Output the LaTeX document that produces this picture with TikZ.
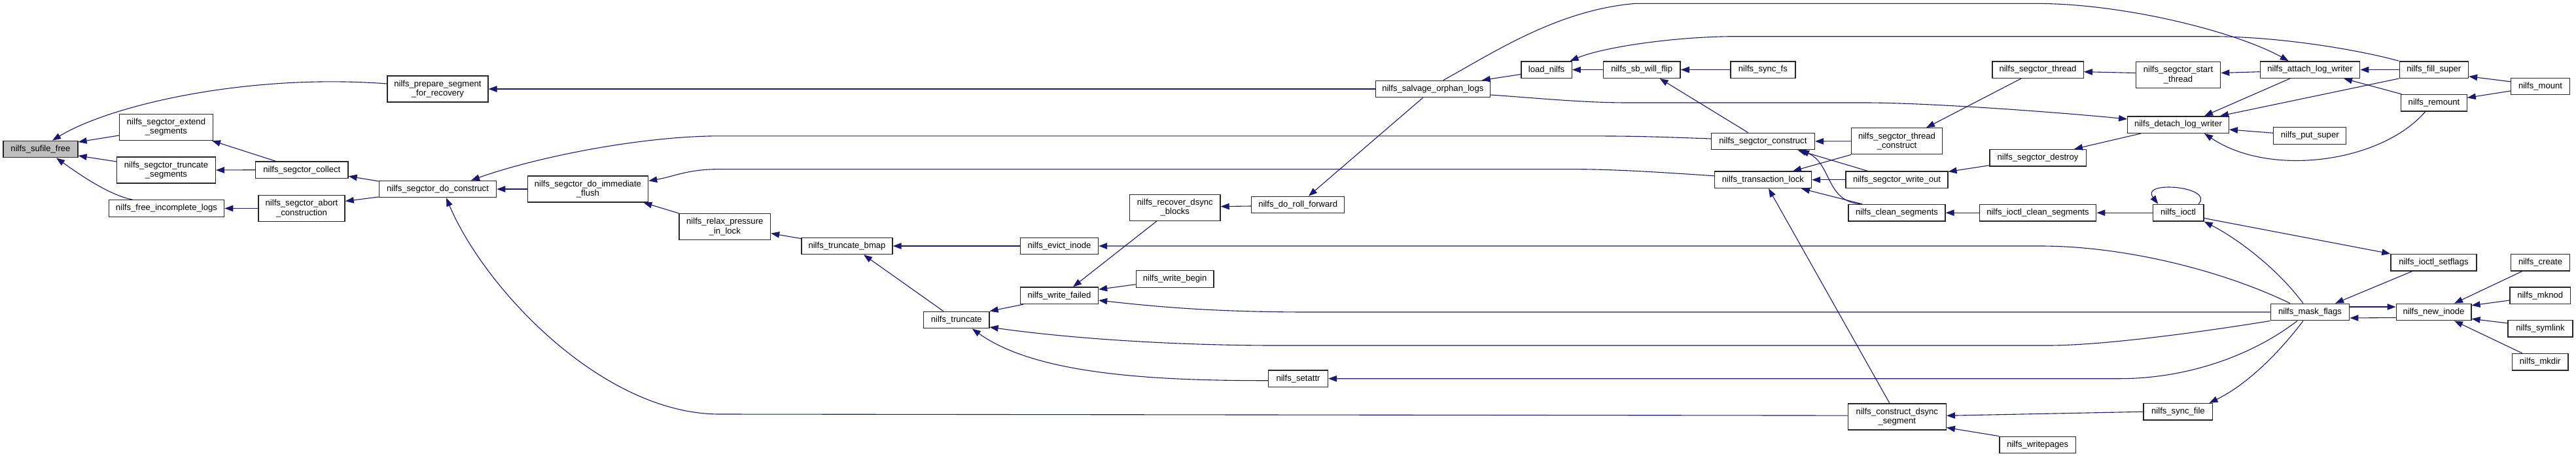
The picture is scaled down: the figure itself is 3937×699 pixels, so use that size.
\documentclass[tikz,border=0pt]{standalone}
\usepackage{fontspec}
\setmainfont{Liberation Sans}
\usetikzlibrary{arrows.meta}
\definecolor{edgeblue}{HTML}{191970}

\begin{document}
\begin{tikzpicture}[
  x=1pt, y=-1pt,
  fn/.style={draw=black!85, line width=1.3pt, fill=white, minimum height=25.5pt,
    inner sep=0pt, font=\fontsize{13.1}{14.3}\selectfont},
  fn2/.style={fn, minimum height=40pt, align=center},
  root/.style={fn, fill=black!25},
  call/.style={draw=edgeblue, line width=1.1pt, -{Triangle[length=13pt,width=9.5pt]}}
]
  \useasboundingbox (0,0) rectangle (3937,699);

  \node[root, minimum width=114pt] (sufile) at (62,228) {nilfs\_sufile\_free};
  \node[fn2, minimum width=143pt] (extend) at (254,194.4) {nilfs\_segctor\_extend\\\_segments};
  \node[fn2, minimum width=150.6pt] (truncseg) at (254,260) {nilfs\_segctor\_truncate\\\_segments};
  \node[fn, minimum width=176.4pt] (freeinc) at (254.4,318.5) {nilfs\_free\_incomplete\_logs};
  \node[fn, minimum width=141.4pt] (collect) at (461.3,259.7) {nilfs\_segctor\_collect};
  \node[fn2, minimum width=132.2pt] (abort) at (461,318.5) {nilfs\_segctor\_abort\\\_construction};
  \node[fn2, minimum width=153.8pt] (prepare) at (669,136) {nilfs\_prepare\_segment\\\_for\_recovery};
  \node[fn, minimum width=179.2pt] (doconstruct) at (669,289) {nilfs\_segctor\_do\_construct};
  \node[fn2, minimum width=184.4pt] (flush) at (898.4,289) {nilfs\_segctor\_do\_immediate\\\_flush};
  \node[fn2, minimum width=139.5pt] (relax) at (1107.8,346.6) {nilfs\_relax\_pressure\\\_in\_lock};
  \node[fn, minimum width=139pt] (truncbmap) at (1294.5,376) {nilfs\_truncate\_bmap};
  \node[fn, minimum width=119pt] (evict) at (1619,376) {nilfs\_evict\_inode};
  \node[fn2, minimum width=138.5pt] (recover) at (1795.8,317.2) {nilfs\_recover\_dsync\\\_blocks};
  \node[fn, minimum width=118.8pt] (writebegin) at (1795.6,426.4) {nilfs\_write\_begin};
  \node[fn, minimum width=119pt] (writefailed) at (1619,451.8) {nilfs\_write\_failed};
  \node[fn, minimum width=100.2pt] (truncate) at (1461.8,489) {nilfs\_truncate};
  \node[fn, minimum width=142pt] (rollfwd) at (1983.7,313) {nilfs\_do\_roll\_forward};
  \node[fn, minimum width=91pt] (setattr) at (1984,578.7) {nilfs\_setattr};
  \node[fn, minimum width=175pt] (salvage) at (2189.8,136) {nilfs\_salvage\_orphan\_logs};
  \node[fn, minimum width=77.4pt] (loadnilfs) at (2363.6,106.6) {load\_nilfs};
  \node[fn, minimum width=117.8pt] (sbflip) at (2509.2,106.6) {nilfs\_sb\_will\_flip};
  \node[fn, minimum width=99pt] (syncfs) at (2694.4,106.6) {nilfs\_sync\_fs};
  \node[fn, minimum width=139.3pt] (segthread) at (3114.5,106.6) {nilfs\_segctor\_thread};
  \node[fn, minimum width=158pt] (segconstruct) at (2694.4,216) {nilfs\_segctor\_construct};
  \node[fn2, minimum width=139pt] (threadconstruct) at (2899,215.8) {nilfs\_segctor\_thread\\\_construct};
  \node[fn, minimum width=147.3pt] (segdestroy) at (3114.5,241.2) {nilfs\_segctor\_destroy};
  \node[fn, minimum width=148.2pt] (translock) at (2694.4,274.8) {nilfs\_transaction\_lock};
  \node[fn, minimum width=155.8pt] (writeout) at (2899,274.8) {nilfs\_segctor\_write\_out};
  \node[fn, minimum width=147.8pt] (cleanseg) at (2899,325.2) {nilfs\_clean\_segments};
  \node[fn, minimum width=178.6pt] (ioctlclean) at (3114.5,325.2) {nilfs\_ioctl\_clean\_segments};
  \node[fn2, minimum width=150pt] (dsync) at (2899.3,637.1) {nilfs\_construct\_dsync\\\_segment};
  \node[fn, minimum width=116.5pt] (writepages) at (3114.2,680) {nilfs\_writepages};
  \node[fn, minimum width=154.6pt] (detach) at (3329,190.6) {nilfs\_detach\_log\_writer};
  \node[fn2, minimum width=129.4pt] (startthread) at (3329,114.6) {nilfs\_segctor\_start\\\_thread};
  \node[fn, minimum width=152.5pt] (attach) at (3530.5,106.6) {nilfs\_attach\_log\_writer};
  \node[fn, minimum width=105.3pt] (fillsuper) at (3719.8,106.6) {nilfs\_fill\_super};
  \node[fn, minimum width=100.4pt] (remount) at (3720,157.2) {nilfs\_remount};
  \node[fn, minimum width=90.3pt] (mount) at (3882.5,132) {nilfs\_mount};
  \node[fn, minimum width=111.1pt] (putsuper) at (3530.2,207.5) {nilfs\_put\_super};
  \node[fn, minimum width=77.8pt] (ioctl) at (3329.1,325.2) {nilfs\_ioctl};
  \node[fn, minimum width=131.1pt] (setflags) at (3719.4,401.2) {nilfs\_ioctl\_setflags};
  \node[fn, minimum width=120.5pt] (maskflags) at (3530.5,477) {nilfs\_mask\_flags};
  \node[fn, minimum width=114.7pt] (newinode) at (3719.5,477) {nilfs\_new\_inode};
  \node[fn, minimum width=90.3pt] (create) at (3882.5,401.2) {nilfs\_create};
  \node[fn, minimum width=92.4pt] (mknod) at (3882.2,451.8) {nilfs\_mknod};
  \node[fn, minimum width=99.1pt] (symlink) at (3882.5,502.2) {nilfs\_symlink};
  \node[fn, minimum width=85.3pt] (mkdir) at (3882.2,553.2) {nilfs\_mkdir};
  \node[fn, minimum width=105.8pt] (syncfile) at (3328.9,629.3) {nilfs\_sync\_file};

  \draw[call] ([yshift=8pt]prepare.west) .. controls (380,112) and (170,160) .. ([xshift=18pt]sufile.north);
  \draw[call] ([yshift=-12.6pt]extend.west) -- ([yshift=11pt]sufile.east);
  \draw[call] ([yshift=13pt]truncseg.west) -- ([yshift=-10pt]sufile.east);
  \draw[call] ([xshift=-52pt]freeinc.north) .. controls (165,298) and (115,262) .. ([xshift=24pt]sufile.south);
  \draw[call] ([xshift=-40pt]collect.north) -- ([xshift=70pt]extend.south);
  \draw[call] (collect.west) -- (truncseg.east);
  \draw[call] (abort.west) -- (freeinc.east);
  \draw[call] ([yshift=12pt]doconstruct.west) -- ([yshift=-9.6pt]collect.east);
  \draw[call] ([yshift=-12pt]doconstruct.west) -- ([yshift=11pt]abort.east);
  \draw[call] (salvage.west) -- (prepare.east);
  \draw[call] ([yshift=4pt]segconstruct.west) .. controls (2500,208) .. (2400,207.8) -- (1100,207.8)
    .. controls (980,208) and (820,240) .. ([xshift=51pt]doconstruct.north);
  \draw[call] (flush.west) -- (doconstruct.east);
  \draw[call] ([yshift=6pt]translock.west) .. controls (2520,262) and (2460,258.6) .. (2400,258.6) -- (1100,258.6)
    .. controls (1050,258.6) and (1030,270) .. ([yshift=12.6pt]flush.east);
  \draw[call] (relax.north west) -- ([xshift=85pt]flush.south);
  \draw[call] ([yshift=11.3pt]truncbmap.west) -- ([yshift=-10pt]relax.east);
  \draw[call] (evict.west) -- (truncbmap.east);
  \draw[call] ([xshift=-20pt]truncate.north) -- ([xshift=25.5pt]truncbmap.south);
  \draw[call] ([xshift=-30.5pt]maskflags.north) .. controls (3400,415) and (3250,376) .. (3118,376) -- (evict.east);
  \draw[call] ([xshift=-27.8pt]recover.south) -- ([xshift=21pt]writefailed.north);
  \draw[call] ([yshift=-8.3pt]writebegin.west) -- ([yshift=9.5pt]writefailed.east);
  \draw[call] (maskflags.west) -- (2000,477) .. controls (1850,477) and (1760,468) .. ([yshift=-7.2pt]writefailed.east);
  \draw[call] ([xshift=-55pt]writefailed.south) -- (truncate.north east);
  \draw[call] (maskflags.south west) .. controls (3380,505) and (3220,528) .. (3130,528) -- (1950,528)
    .. controls (1800,528) and (1640,518) .. ([yshift=-11pt]truncate.east);
  \draw[call] ([yshift=-3pt]setattr.west) .. controls (1750,582) and (1580,570) .. ([xshift=24pt]truncate.south);
  \draw[call] ([xshift=-19.5pt]maskflags.south) .. controls (3440,545) and (3340,578.7) .. (3240,578.7) -- (setattr.east);
  \draw[call] ([yshift=2pt]dsync.west) -- (1100,633) .. controls (920,633) and (740,440) .. ([xshift=13pt]doconstruct.south);
  \draw[call] ([xshift=-15.2pt]salvage.south) -- ([xshift=16.3pt]rollfwd.north);
  \draw[call] ([yshift=-2pt]rollfwd.west) -- ([yshift=1.6pt]recover.east);
  \draw[call] ([yshift=-7pt]loadnilfs.west) -- ([xshift=75pt]salvage.north);
  \draw[call] ([xshift=16pt]salvage.north) .. controls (2280,82) and (2380,15) .. (2500,5.3) -- (3110,5.3)
    .. controls (3250,5.3) and (3420,50) .. ([xshift=-32.7pt]attach.north);
  \draw[call] (fillsuper.north west) .. controls (3600,75) and (3480,55.7) .. (3380,55.7) -- (2650,55.7)
    .. controls (2560,56) and (2450,72) .. ([xshift=36pt]loadnilfs.north);
  \draw[call] (sbflip.west) -- (loadnilfs.east);
  \draw[call] (syncfs.west) -- (sbflip.east);
  \draw[call] ([xshift=-22.8pt]segconstruct.north) -- ([xshift=27.4pt]sbflip.south);
  \draw[call] ([yshift=-9pt]salvage.east) .. controls (2350,150) and (2420,157) .. (2488,157) -- (2850,157)
    .. controls (2950,157) and (3150,172) .. ([yshift=8.6pt]detach.west);
  \draw[call] ([xshift=-30.5pt]attach.south) -- ([xshift=40pt]detach.north);
  \draw[call] (fillsuper.south west) -- ([xshift=64pt]detach.north);
  \draw[call] ([yshift=4.2pt]putsuper.west) -- ([yshift=-7.4pt]detach.east);
  \draw[call] ([xshift=-13.3pt]remount.south) .. controls (3640,248) and (3470,272) .. ([xshift=40pt]detach.south);
  \draw[call] ([xshift=21pt]detach.south west) -- ([xshift=55.5pt]segdestroy.north);
  \draw[call] ([xshift=1pt]remount.north west) -- ([xshift=51.5pt]attach.south);
  \draw[call] (fillsuper.west) -- (attach.east);
  \draw[call] ([yshift=7.2pt]mount.west) -- ([yshift=-10.2pt]fillsuper.east);
  \draw[call] ([yshift=-7pt]mount.west) -- ([yshift=7.8pt]remount.east);
  \draw[call] ([yshift=-3.1pt]attach.west) -- ([yshift=3.1pt]startthread.east);
  \draw[call] ([yshift=3.1pt]startthread.west) -- ([yshift=-3.1pt]segthread.east);
  \draw[call] ([xshift=-25.5pt]segthread.south) -- ([xshift=45pt]threadconstruct.north);
  \draw[call] (threadconstruct.west) -- (segconstruct.east);
  \draw[call] ([xshift=-44.4pt]writeout.north) -- ([xshift=53pt]segconstruct.south);
  \draw[call] ([xshift=-53.3pt]cleanseg.north) .. controls (2790,310) and (2800,250) .. ([xshift=57.6pt]segconstruct.south);
  \draw[call] (threadconstruct.south west) -- ([xshift=45.6pt]translock.north);
  \draw[call] (writeout.west) -- (translock.east);
  \draw[call] ([xshift=-53.3pt]cleanseg.north) -- ([xshift=58.6pt]translock.south);
  \draw[call] ([xshift=-11.3pt]dsync.north) -- ([xshift=8.6pt]translock.south);
  \draw[call] ([yshift=-11.6pt]segdestroy.west) -- ([yshift=-1pt]writeout.north east);
  \draw[call] (ioctlclean.west) -- (cleanseg.east);
  \draw[call] (ioctl.west) -- (ioctlclean.east);
  \draw[call] ([xshift=31pt]ioctl.north) .. controls (3385,285) and (3270,275) .. ([xshift=-30.8pt]ioctl.north);
  \draw[call] ([xshift=-10.5pt]maskflags.north) .. controls (3480,410) and (3420,365) .. (ioctl.south east);
  \draw[call] ([yshift=-8.3pt]ioctl.east) -- (setflags.north west);
  \draw[call] ([xshift=-32.7pt]setflags.south) -- ([xshift=38.5pt]maskflags.north);
  \draw[call] ([yshift=8pt]maskflags.east) -- ([yshift=8pt]newinode.west);
  \draw[call] ([yshift=-8.5pt]newinode.west) -- ([yshift=-9pt]maskflags.east);
  \draw[call] ([xshift=-27.8pt]create.south) -- ([xshift=31.5pt]newinode.north);
  \draw[call] ([yshift=-7.2pt]mknod.west) -- ([yshift=10.2pt]newinode.east);
  \draw[call] ([yshift=8.2pt]symlink.west) -- ([yshift=-10.3pt]newinode.east);
  \draw[call] ([xshift=-27.5pt]mkdir.north) -- ([xshift=31.5pt]newinode.south);
  \draw[call] ([xshift=-10.5pt]maskflags.south) .. controls (3490,530) and (3440,585) .. ([xshift=-6pt]syncfile.north east);
  \draw[call] (syncfile.west) -- ([yshift=1.8pt]dsync.east);
  \draw[call] (writepages.north west) -- ([yshift=-16.4pt]dsync.east);
\end{tikzpicture}
\end{document}
